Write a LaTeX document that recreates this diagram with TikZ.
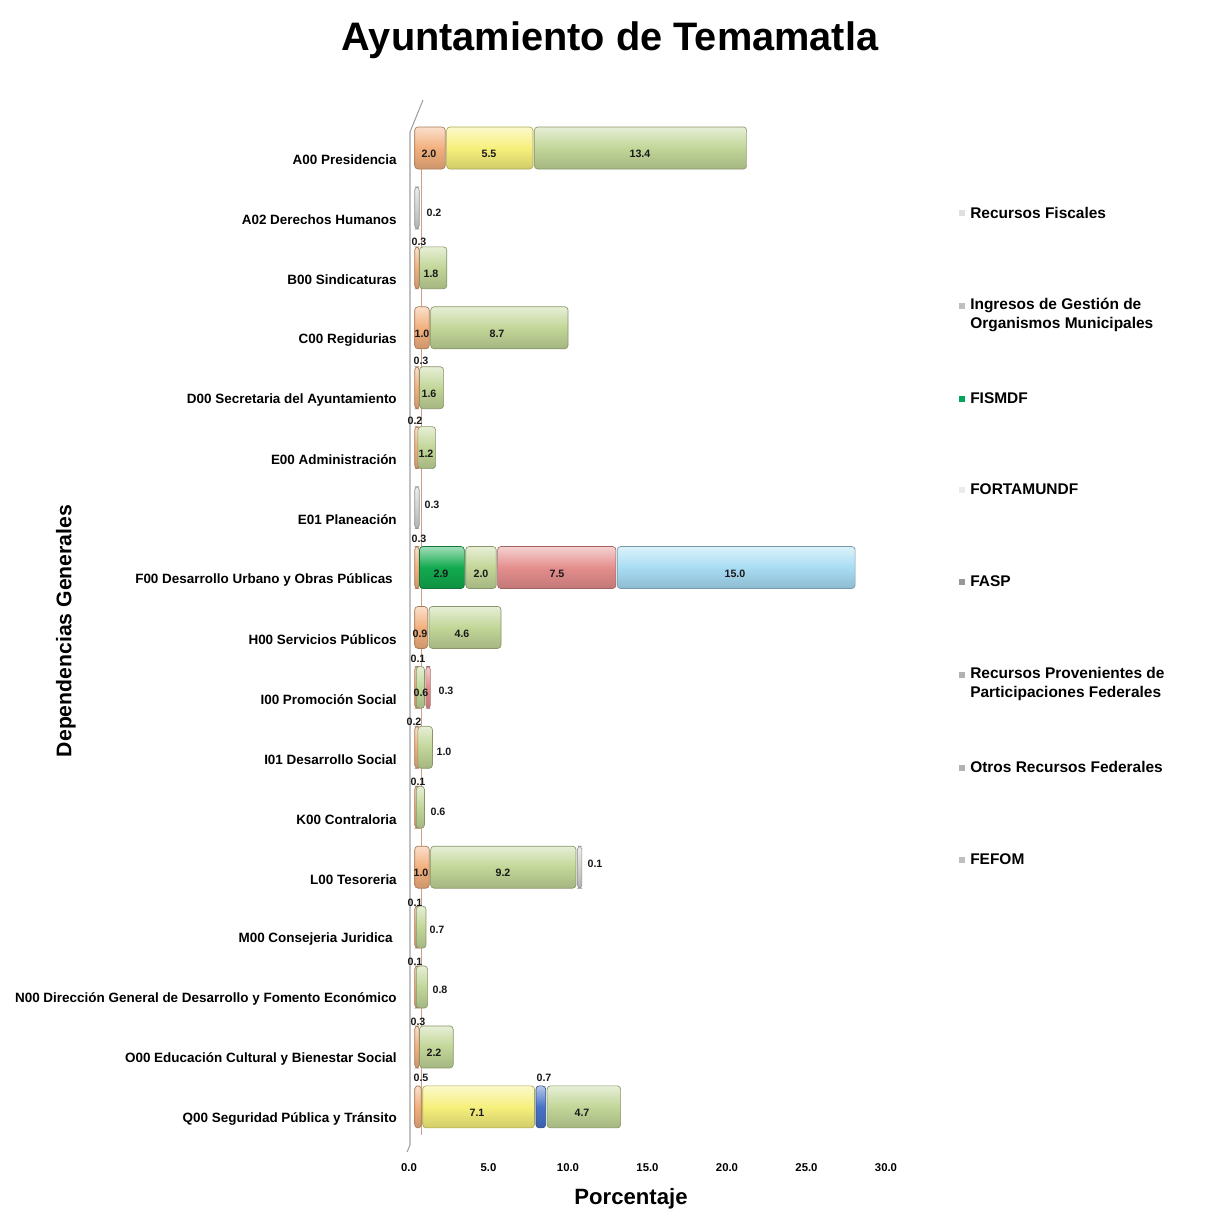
\documentclass[tikz,border=0pt]{standalone}
\usepackage{fontspec}
\setmainfont{Liberation Sans}
\definecolor{orng}{HTML}{F2B07E}
\definecolor{yel}{HTML}{F6F07C}
\definecolor{lgrn}{HTML}{C2D698}
\definecolor{dgrn}{HTML}{12AA4E}
\definecolor{redc}{HTML}{E48E8C}
\definecolor{lblu}{HTML}{A8DCF4}
\definecolor{bluc}{HTML}{4672C8}
\definecolor{greyc}{HTML}{D2D2D2}
\definecolor{axisc}{HTML}{A0A0A0}
\definecolor{backc}{HTML}{C8A08A}
\newcommand\seg[4]{%
  \pgfmathsetmacro\ya{160+#1*59.93-33}%
  \pgfmathsetmacro\yb{160+#1*59.93+9}%
  \pgfmathsetmacro\xa{414+#2*15.95+0.7}%
  \pgfmathsetmacro\xb{max(414+#3*15.95-0.7,\xa+4.5)}%
  \shade[draw=#4!70!black, line width=0.5pt, rounded corners=2.5pt,
    top color=#4!40!white, bottom color=#4!85!black, middle color=#4]
    (\xa,\ya) rectangle (\xb,\yb);}
\tikzset{
  catlab/.style={anchor=east, font=\fontsize{10.1}{12}\selectfont\bfseries, inner sep=0pt},
  vlab/.style={font=\fontsize{8}{9}\selectfont\bfseries, inner sep=0pt, text=black!90},
  ticklab/.style={font=\fontsize{8.5}{10}\selectfont\bfseries, inner sep=0pt},
  leglab/.style={anchor=west, align=left, font=\fontsize{11.6}{14.2}\selectfont\bfseries, inner sep=0pt, text=black},
  legmark/.style={minimum size=4pt, inner sep=0pt, draw=none}
}
\begin{document}
\begin{tikzpicture}[x=0.75pt,y=-0.75pt]
\useasboundingbox (0,0) rectangle (1206,1214);
\fill[white] (0,0) rectangle (1206,1214);
% title
\node[font=\fontsize{29.8}{34}\selectfont\bfseries, inner sep=0pt] (title) at (610,40) {Ayuntamiento de Temamatla};
% axis lines
\draw[axisc, line width=0.8pt] (423,100) -- (410,132) -- (410,1145) -- (407,1152);
\draw[backc, line width=0.4pt] (421,140) -- (421,1135);
% category labels
\node[catlab] (c0) at (397,160) {A00 Presidencia};
\node[catlab] (c1) at (397,219.9) {A02 Derechos Humanos};
\node[catlab] (c2) at (397,279.9) {B00 Sindicaturas};
\node[catlab] (c3) at (397,339.8) {C00 Regidurias};
\node[catlab] (c4) at (397,399.7) {D00 Secretaria del Ayuntamiento};
\node[catlab] (c5) at (397,459.7) {E00 Administración};
\node[catlab] (c6) at (397,519.6) {E01 Planeación};
\node[catlab] (c7) at (393,579.5) {F00 Desarrollo Urbano y Obras Públicas};
\node[catlab] (c8) at (397,639.4) {H00 Servicios Públicos};
\node[catlab] (c9) at (397,699.4) {I00 Promoción Social};
\node[catlab] (c10) at (397,759.3) {I01 Desarrollo Social};
\node[catlab] (c11) at (397,819.2) {K00 Contraloria};
\node[catlab] (c12) at (397,879.2) {L00 Tesoreria};
\node[catlab] (c13) at (393,939.1) {M00 Consejeria Juridica};
\node[catlab] (c14) at (397,999.0) {N00 Dirección General de Desarrollo y Fomento Económico};
\node[catlab] (c15) at (397,1059.0) {O00 Educación Cultural y Bienestar Social};
\node[catlab] (c16) at (397,1118.9) {Q00 Seguridad Pública y Tránsito};
% bars
\seg{0}{0}{2.0}{orng}\seg{0}{2.0}{7.5}{yel}\seg{0}{7.5}{20.9}{lgrn}
\seg{1}{0}{0.2}{greyc}
\seg{2}{0}{0.3}{orng}\seg{2}{0.3}{2.1}{lgrn}
\seg{3}{0}{1.0}{orng}\seg{3}{1.0}{9.7}{lgrn}
\seg{4}{0}{0.3}{orng}\seg{4}{0.3}{1.9}{lgrn}
\seg{5}{0}{0.2}{orng}\seg{5}{0.2}{1.4}{lgrn}
\seg{6}{0}{0.3}{greyc}
\seg{7}{0}{0.3}{orng}\seg{7}{0.3}{3.2}{dgrn}\seg{7}{3.2}{5.2}{lgrn}\seg{7}{5.2}{12.7}{redc}\seg{7}{12.7}{27.7}{lblu}
\seg{8}{0}{0.9}{orng}\seg{8}{0.9}{5.5}{lgrn}
\seg{9}{0}{0.1}{orng}\seg{9}{0.1}{0.7}{lgrn}\seg{9}{0.7}{1.0}{redc}
\seg{10}{0}{0.2}{orng}\seg{10}{0.2}{1.2}{lgrn}
\seg{11}{0}{0.1}{orng}\seg{11}{0.1}{0.7}{lgrn}
\seg{12}{0}{1.0}{orng}\seg{12}{1.0}{10.2}{lgrn}\seg{12}{10.2}{10.3}{greyc}
\seg{13}{0}{0.1}{orng}\seg{13}{0.1}{0.8}{lgrn}
\seg{14}{0}{0.1}{orng}\seg{14}{0.1}{0.9}{lgrn}
\seg{15}{0}{0.3}{orng}\seg{15}{0.3}{2.5}{lgrn}
\seg{16}{0}{0.5}{orng}\seg{16}{0.5}{7.6}{yel}\seg{16}{7.6}{8.3}{bluc}\seg{16}{8.3}{13.0}{lgrn}
% value labels
\node[vlab] (v0a) at (429,154) {2.0};
\node[vlab] (v0b) at (489,154) {5.5};
\node[vlab] (v0c) at (640,154) {13.4};
\node[vlab] (v1a) at (434,213) {0.2};
\node[vlab] (v2a) at (419,242) {0.3};
\node[vlab] (v2b) at (431,274) {1.8};
\node[vlab] (v3a) at (422,334) {1.0};
\node[vlab] (v3b) at (497,334) {8.7};
\node[vlab] (v4a) at (421,361) {0.3};
\node[vlab] (v4b) at (429,394) {1.6};
\node[vlab] (v5a) at (415,421) {0.2};
\node[vlab] (v5b) at (426,454) {1.2};
\node[vlab] (v6a) at (432,505) {0.3};
\node[vlab] (v7a) at (419,539) {0.3};
\node[vlab] (v7b) at (441,574) {2.9};
\node[vlab] (v7c) at (481,574) {2.0};
\node[vlab] (v7d) at (557,574) {7.5};
\node[vlab] (v7e) at (735,574) {15.0};
\node[vlab] (v8a) at (420,634) {0.9};
\node[vlab] (v8b) at (462,634) {4.6};
\node[vlab] (v9a) at (418,659) {0.1};
\node[vlab] (v9b) at (421,693) {0.6};
\node[vlab] (v9c) at (446,691) {0.3};
\node[vlab] (v10a) at (414,722) {0.2};
\node[vlab] (v10b) at (444,752) {1.0};
\node[vlab] (v11a) at (418,782) {0.1};
\node[vlab] (v11b) at (438,812) {0.6};
\node[vlab] (v12a) at (421,873) {1.0};
\node[vlab] (v12b) at (503,873) {9.2};
\node[vlab] (v12c) at (595,864) {0.1};
\node[vlab] (v13a) at (415,903) {0.1};
\node[vlab] (v13b) at (437,930) {0.7};
\node[vlab] (v14a) at (415,962) {0.1};
\node[vlab] (v14b) at (440,990) {0.8};
\node[vlab] (v15a) at (418,1022) {0.3};
\node[vlab] (v15b) at (434,1053) {2.2};
\node[vlab] (v16a) at (421,1078) {0.5};
\node[vlab] (v16b) at (477,1113) {7.1};
\node[vlab] (v16c) at (544,1078) {0.7};
\node[vlab] (v16d) at (582,1113) {4.7};
% ticks
\node[ticklab] (t0) at (409,1168) {0.0};
\node[ticklab] (t1) at (488.5,1168) {5.0};
\node[ticklab] (t2) at (568,1168) {10.0};
\node[ticklab] (t3) at (647.5,1168) {15.0};
\node[ticklab] (t4) at (727,1168) {20.0};
\node[ticklab] (t5) at (806.5,1168) {25.0};
\node[ticklab] (t6) at (886,1168) {30.0};
% axis titles
\node[font=\fontsize{16.6}{20}\selectfont\bfseries, inner sep=0pt] (xtitle) at (631,1199) {Porcentaje};
\node[font=\fontsize{15.9}{20}\selectfont\bfseries, inner sep=0pt, rotate=90] (ytitle) at (66,631) {Dependencias Generales};
% legend
\node[legmark, fill=black!12] (m1) at (962,213) {};
\node[leglab] (l1) at (970,213) {Recursos Fiscales};
\node[legmark, fill=black!25] (m2) at (962,306) {};
\node[leglab] (l2) at (970,315) {Ingresos de Gestión de\\Organismos Municipales};
\node[legmark, fill=teal!70!green] (m3) at (962,399) {};
\node[leglab] (l3) at (970,398) {FISMDF};
\node[legmark, fill=black!8] (m4) at (962,490) {};
\node[leglab] (l4) at (970,489) {FORTAMUNDF};
\node[legmark, fill=black!40] (m5) at (962,582) {};
\node[leglab] (l5) at (970,581) {FASP};
\node[legmark, fill=black!30] (m6) at (962,675) {};
\node[leglab] (l6) at (970,684) {Recursos Provenientes de\\Participaciones Federales};
\node[legmark, fill=black!30] (m7) at (962,768) {};
\node[leglab] (l7) at (970,767) {Otros Recursos Federales};
\node[legmark, fill=black!25] (m8) at (962,860) {};
\node[leglab] (l8) at (970,859) {FEFOM};
\end{tikzpicture}
\end{document}
